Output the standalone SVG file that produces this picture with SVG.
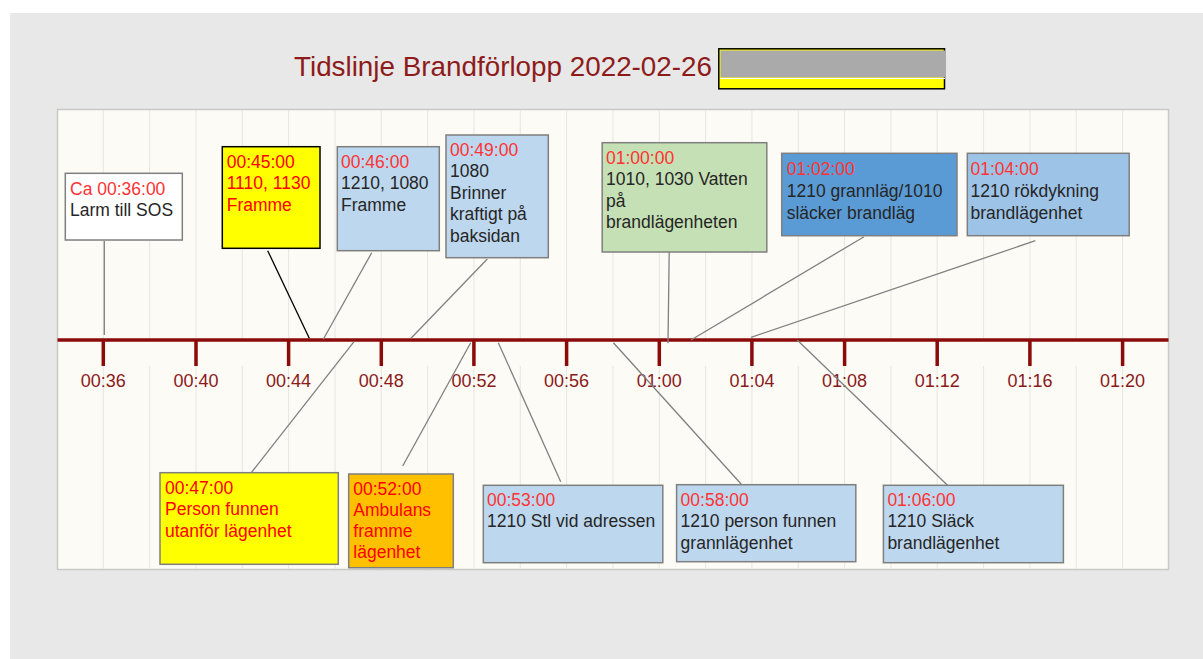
<svg xmlns="http://www.w3.org/2000/svg" width="1203" height="659" viewBox="0 0 1203 659">
<style>
text{font-family:"Liberation Sans",Arial,sans-serif;}
.box{stroke:#7f7f7f;stroke-width:1.5;}
.t{font-size:17.5px;fill:#262626;}
.r{fill:#ff3333;}
.rr{fill:#ff0000;}
.grid{stroke:#e8e6e0;stroke-width:1;}
.tick{stroke:#8b0a0a;stroke-width:3.5;}
.lab{font-size:18px;fill:#8b1a1a;text-anchor:middle;}
.con{stroke:#808080;stroke-width:1.3;fill:none;}
</style>
<rect x="0" y="0" width="1203" height="659" fill="#ffffff"/>
<rect x="10" y="13" width="1193" height="646" fill="#e8e8e8"/>
<text x="294" y="76" font-size="28" fill="#8e1b1b" textLength="418" lengthAdjust="spacingAndGlyphs">Tidslinje Brandförlopp 2022-02-26</text>
<g id="title-mask">
<rect x="718.8" y="48.8" width="225.7" height="40" fill="#ffff00" stroke="#000" stroke-width="1.5"/>
<rect x="720.5" y="50.5" width="225.5" height="27" fill="#aaaaaa"/>
<line x1="720.5" y1="78.5" x2="945" y2="78.5" stroke="#ffffff" stroke-width="1.2"/>
</g>
<rect x="57.5" y="109.5" width="1111" height="460" fill="#fdfbf5" stroke="#c8c8c8" stroke-width="1.5"/>
<g id="grid">
<path class="grid" d="M103.3 110V338M149.6 110V338M196 110V338M242.3 110V338M288.6 110V338M335 110V338M381.3 110V338M427.6 110V338M473.9 110V338M520.3 110V338M566.6 110V338M612.9 110V338M659.3 110V338M705.6 110V338M751.9 110V338M798.3 110V338M844.6 110V338M890.9 110V338M937.2 110V338M983.6 110V338M1029.9 110V338M1076.2 110V338M1122.6 110V338"/>
<path class="grid" d="M103.3 366V569M149.6 366V569M196 366V569M242.3 366V569M288.6 366V569M335 366V569M381.3 366V569M427.6 366V569M473.9 366V569M520.3 366V569M566.6 366V569M612.9 366V569M659.3 366V569M705.6 366V569M751.9 366V569M798.3 366V569M844.6 366V569M890.9 366V569M937.2 366V569M983.6 366V569M1029.9 366V569M1076.2 366V569M1122.6 366V569"/>
</g>
<g id="axis">
<line x1="57.5" y1="340" x2="1168.5" y2="340" class="tick"/>
<path class="tick" d="M103.3 340V366M196 340V366M288.6 340V366M381.3 340V366M473.9 340V366M566.6 340V366M659.3 340V366M751.9 340V366M844.6 340V366M937.2 340V366M1029.9 340V366M1122.6 340V366"/>
<text class="lab" x="103.3" y="387">00:36</text>
<text class="lab" x="196" y="387">00:40</text>
<text class="lab" x="288.6" y="387">00:44</text>
<text class="lab" x="381.3" y="387">00:48</text>
<text class="lab" x="473.9" y="387">00:52</text>
<text class="lab" x="566.6" y="387">00:56</text>
<text class="lab" x="659.3" y="387">01:00</text>
<text class="lab" x="751.9" y="387">01:04</text>
<text class="lab" x="844.6" y="387">01:08</text>
<text class="lab" x="937.2" y="387">01:12</text>
<text class="lab" x="1029.9" y="387">01:16</text>
<text class="lab" x="1122.6" y="387">01:20</text>
</g>
<g id="connectors">
<line class="con" x1="104.3" y1="241" x2="104.3" y2="335"/>
<line x1="267.7" y1="250.7" x2="309.3" y2="338.3" stroke="#000" stroke-width="1.3"/>
<line class="con" x1="371.7" y1="252.7" x2="323.3" y2="339.3"/>
<line class="con" x1="487.3" y1="259" x2="411" y2="338.3"/>
<line class="con" x1="669.2" y1="252" x2="668" y2="343.3"/>
<line class="con" x1="864" y1="236.7" x2="691" y2="340"/>
<line class="con" x1="1035.4" y1="240.7" x2="751" y2="337.3"/>
<line class="con" x1="250" y1="474.3" x2="354" y2="341.7"/>
<line class="con" x1="402.7" y1="466" x2="470.7" y2="342.7"/>
<line class="con" x1="560.7" y1="481.7" x2="498.3" y2="342.7"/>
<line class="con" x1="741.1" y1="484" x2="613.4" y2="342.7"/>
<line class="con" x1="947.5" y1="485.3" x2="797.2" y2="340"/>
</g>
<g id="e0036">
<rect class="box" x="65.3" y="173.3" width="117" height="66.7" fill="#ffffff"/>
<text class="t" x="70" y="195"><tspan class="r">Ca 00:36:00</tspan><tspan x="70" y="216">Larm till SOS</tspan></text>
</g>
<g id="e0045">
<rect x="222.3" y="146.7" width="97.7" height="101.6" fill="#ffff00" stroke="#000" stroke-width="1.5"/>
<text class="t rr" x="226.7" y="167.7">00:45:00<tspan x="226.7" y="189">1110, 1130</tspan><tspan x="226.7" y="210.5">Framme</tspan></text>
</g>
<g id="e0046">
<rect class="box" x="337.3" y="146.7" width="102" height="104" fill="#bdd7ee"/>
<text class="t" x="341" y="167.7"><tspan class="r">00:46:00</tspan><tspan x="341" y="189">1210, 1080</tspan><tspan x="341" y="210.5">Framme</tspan></text>
</g>
<g id="e0049">
<rect class="box" x="446" y="135" width="102.3" height="122.7" fill="#bdd7ee"/>
<text class="t" x="450" y="155.5"><tspan class="r">00:49:00</tspan><tspan x="450" y="177">1080</tspan><tspan x="450" y="198.5">Brinner</tspan><tspan x="450" y="220">kraftigt på</tspan><tspan x="450" y="241.5">baksidan</tspan></text>
</g>
<g id="e0100">
<rect class="box" x="602.2" y="142.7" width="164.6" height="109.3" fill="#c5e0b4"/>
<text class="t" x="606" y="163.5"><tspan class="r">01:00:00</tspan><tspan x="606" y="185">1010, 1030 Vatten</tspan><tspan x="606" y="206.5">på</tspan><tspan x="606" y="228">brandlägenheten</tspan></text>
</g>
<g id="e0102">
<rect class="box" x="781.7" y="153.3" width="175.3" height="82.4" fill="#5b9bd5"/>
<text class="t" x="786.7" y="175"><tspan class="r">01:02:00</tspan><tspan x="786.7" y="196.7">1210 grannläg/1010</tspan><tspan x="786.7" y="218.5">släcker brandläg</tspan></text>
</g>
<g id="e0104">
<rect class="box" x="967.3" y="153.3" width="161.9" height="82.4" fill="#9dc3e6"/>
<text class="t" x="970.5" y="175"><tspan class="r">01:04:00</tspan><tspan x="970.5" y="196.7">1210 rökdykning</tspan><tspan x="970.5" y="218.5">brandlägenhet</tspan></text>
</g>
<g id="e0047">
<rect class="box" x="160" y="472.7" width="178.3" height="91.6" fill="#ffff00"/>
<text class="t rr" x="165" y="493.5">00:47:00<tspan x="165" y="515">Person funnen</tspan><tspan x="165" y="536.7">utanför lägenhet</tspan></text>
</g>
<g id="e0052">
<rect class="box" x="348.7" y="474" width="104.6" height="93.7" fill="#ffc000"/>
<text class="t rr" x="353.3" y="495">00:52:00<tspan x="353.3" y="516">Ambulans</tspan><tspan x="353.3" y="537">framme</tspan><tspan x="353.3" y="558">lägenhet</tspan></text>
</g>
<g id="e0053">
<rect class="box" x="483.3" y="485.3" width="179.5" height="77.4" fill="#bdd7ee"/>
<text class="t" x="487" y="506"><tspan class="r">00:53:00</tspan><tspan x="487" y="527">1210 Stl vid adressen</tspan></text>
</g>
<g id="e0058">
<rect class="box" x="676.6" y="484.7" width="179.2" height="77" fill="#bdd7ee"/>
<text class="t" x="680.6" y="505.7"><tspan class="r">00:58:00</tspan><tspan x="680.6" y="527">1210 person funnen</tspan><tspan x="680.6" y="548.5">grannlägenhet</tspan></text>
</g>
<g id="e0106">
<rect class="box" x="883.4" y="485.3" width="180" height="77.4" fill="#bdd7ee"/>
<text class="t" x="887.4" y="505.7"><tspan class="r">01:06:00</tspan><tspan x="887.4" y="527">1210 Släck</tspan><tspan x="887.4" y="548.5">brandlägenhet</tspan></text>
</g>
</svg>
